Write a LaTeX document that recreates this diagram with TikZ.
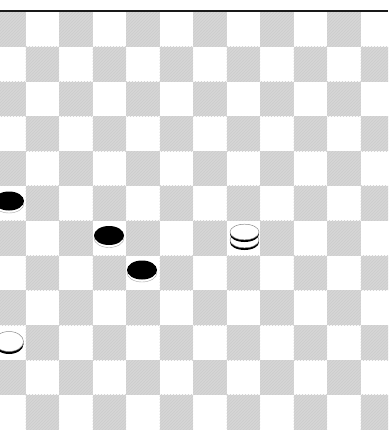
\documentclass[tikz,border=0pt]{standalone}
\usetikzlibrary{patterns}
\tikzset{
  darksq/.style={fill=black!16},
  hatch/.style={pattern=north east lines, pattern color=black!20},
  topline/.style={line width=2.6pt, draw=black!90},
  pieceblack/.style={fill=black},
  piecewhite/.style={fill=white, draw=black!45, line width=0.5pt},
  rim/.style={fill=black},
  blackrim/.style={fill=white, draw=black!35, line width=0.4pt}
}
\newcommand{\blackman}[2]{%
  \path[blackrim] (#1,#2+2.5) ellipse[x radius=15pt, y radius=9.5pt];
  \path[pieceblack] (#1,#2) ellipse[x radius=15pt, y radius=9.5pt];
}
\newcommand{\whitedisc}[2]{%
  \path[rim] (#1,#2+2.2) ellipse[x radius=14.5pt, y radius=7.8pt];
  \path[piecewhite] (#1,#2) ellipse[x radius=14.5pt, y radius=7.8pt];
}
\begin{document}
\begin{tikzpicture}[x=1pt,y=-1pt]
  \useasboundingbox (0,0) rectangle (388,430);
  \fill[white] (0,0) rectangle (388,430);
  \begin{scope}
    \clip (0,0) rectangle (388,430);
    % board squares
    \foreach \r in {0,...,11} {
      \foreach \c in {-1,...,10} {
        \pgfmathtruncatemacro\sqparity{mod(\r+\c+2,2)}
        \ifnum\sqparity=1
          \path[darksq] ({25.5+33.5*\c},{12+34.8*\r}) rectangle ({25.5+33.5*(\c+1)},{12+34.8*(\r+1)});
          \path[hatch] ({25.5+33.5*\c},{12+34.8*\r}) rectangle ({25.5+33.5*(\c+1)},{12+34.8*(\r+1)});
        \fi
      }
    }
    % top border line
    \coordinate (tl) at (0,11);
    \coordinate (tr) at (388,11);
    \draw[topline] (tl) -- (tr);
    % black men
    \blackman{9}{201}
    \blackman{109}{235.5}
    \blackman{142}{270}
    % white man
    \path[rim] (9,344) ellipse[x radius=14.5pt, y radius=10pt];
    \path[piecewhite] (9,341.5) ellipse[x radius=14.5pt, y radius=10pt];
    % white king (two stacked discs)
    \whitedisc{244.5}{240}
    \whitedisc{244.5}{232}
  \end{scope}
\end{tikzpicture}
\end{document}
